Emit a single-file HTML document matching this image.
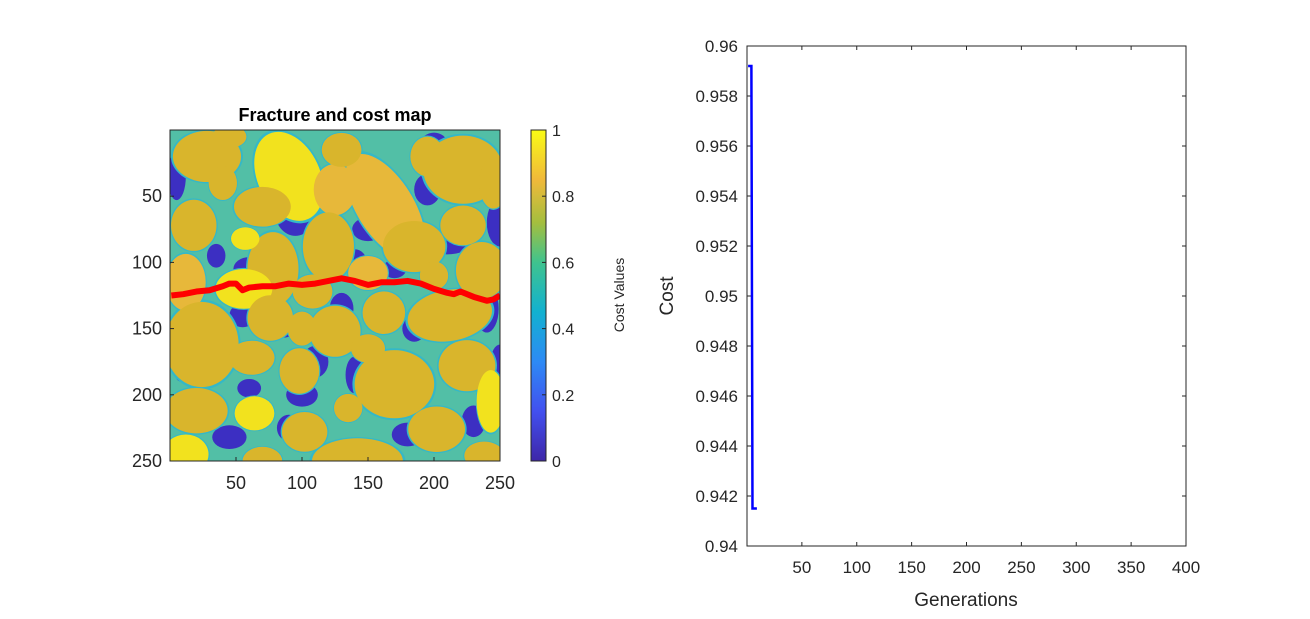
<!DOCTYPE html>
<html><head><meta charset="utf-8"><style>
body{margin:0;background:#fff;width:1310px;height:614px;overflow:hidden}
svg text{font-family:"Liberation Sans",Arial,sans-serif;fill:#262626}
</style></head><body>
<svg id="fig" width="1310" height="614" viewBox="0 0 1310 614">
<defs>
<linearGradient id="parula" x1="0" y1="1" x2="0" y2="0">
<stop offset="0" stop-color="#3e26a8"/><stop offset="0.15" stop-color="#4250ef"/><stop offset="0.3" stop-color="#2d8af5"/>
<stop offset="0.45" stop-color="#12b1d0"/><stop offset="0.6" stop-color="#3fc38e"/><stop offset="0.72" stop-color="#a4be3e"/>
<stop offset="0.85" stop-color="#f0b93a"/><stop offset="1" stop-color="#f9fb15"/></linearGradient>
<clipPath id="mapclip"><rect x="170" y="130" width="330" height="331"/></clipPath>
</defs>
<g id="map" clip-path="url(#mapclip)"></g>
<rect x="170" y="130" width="330" height="331" fill="none" stroke="#262626" stroke-width="1"/>
<g id="mapaxes"></g>
<text x="335" y="121" text-anchor="middle" font-size="18" font-weight="bold" style="fill:#000">Fracture and cost map</text>
<rect x="531" y="130" width="15" height="331" fill="url(#parula)" stroke="#262626" stroke-width="1"/>
<g id="cbaxes"></g>
<text transform="translate(624,295) rotate(-90)" text-anchor="middle" font-size="14">Cost Values</text>
<rect x="747" y="46" width="439" height="500" fill="none" stroke="#262626" stroke-width="1"/>
<g id="costaxes"></g>
<text x="966" y="606" text-anchor="middle" font-size="19">Generations</text>
<text transform="translate(673,296) rotate(-90)" text-anchor="middle" font-size="19">Cost</text>
</svg>
<script>
const NS="http://www.w3.org/2000/svg";
const pathCols=[1,10,20,30,40,45,50,55,60,70,80,90,100,110,120,130,140,150,160,170,180,190,200,210,215,220,230,240,245,250];
const pathRows=[125,124,122,121,118,116,116,121,119,118,118,116,117,116,114,112,114,117,115,115,114,116,120,123,124,122,126,129,128,125];
const generations=[1,2,3,4,5,6,7,8,9];
const costValues=[0.9592,0.9592,0.9592,0.9592,0.9415,0.9415,0.9415,0.9415,0.9415];
const mapTicks=[50,100,150,200,250];
const cbTicks=[0,0.2,0.4,0.6,0.8,1];
const costYTicks=[0.94,0.942,0.944,0.946,0.948,0.95,0.952,0.954,0.956,0.958,0.96];
const costXTicks=[50,100,150,200,250,300,350,400];
const mx=c=>170+c*1.32, my=r=>130+r*1.324;
const cx=g=>747+g*439/400, cy=v=>46+(0.96-v)/0.02*500;
const cbY=v=>461-v*331;
function mk(tag,attrs,parent){const e=document.createElementNS(NS,tag);for(const k in attrs)e.setAttribute(k,attrs[k]);parent.appendChild(e);return e;}
const map=document.getElementById('map');
mk('rect',{x:170,y:130,width:330,height:331,fill:'#52bfa6'},map);
const pores=[[95,60,16,20],[150,75,12,9],[195,45,10,12],[210,85,18,9],[250,70,10,18],[60,105,12,9],[140,100,9,10],[170,105,9,7],[55,140,10,9],[85,148,13,9],[130,135,9,12],[185,150,9,10],[240,135,9,18],[110,175,10,12],[140,185,7,14],[60,195,9,7],[100,200,12,9],[45,232,13,9],[90,225,9,10],[180,230,12,9],[230,220,9,12],[250,175,7,13],[5,35,7,18],[8,180,5,10],[35,95,7,9],[200,10,10,8]];
pores.forEach(p=>mk('ellipse',{cx:mx(p[0]),cy:my(p[1]),rx:p[2]*1.32,ry:p[3]*1.32,fill:'#3c2fc2'},map));
const O='#d9b52c',Y='#f2e21e',R='#e7b83a';
const grains=[[28,20,24,18,0,O],[90,35,22,33,-25,Y],[125,45,15,18,0,R],[163,58,20,42,-32,R],[222,30,28,24,0,O],[18,72,16,18,0,O],[70,58,20,14,0,O],[120,88,18,24,0,O],[78,105,18,26,0,O],[57,82,10,8,0,Y],[108,122,14,12,0,O],[185,88,22,18,0,O],[222,72,16,14,0,O],[236,106,18,20,0,O],[12,115,14,20,0,R],[56,120,20,14,0,Y],[150,108,14,12,0,R],[24,162,26,30,0,O],[76,142,16,16,0,O],[125,152,18,18,0,O],[162,138,15,15,0,O],[212,140,30,18,-10,O],[225,178,20,18,0,O],[170,192,28,24,0,O],[98,182,14,16,0,O],[62,172,16,12,0,O],[20,212,22,16,0,O],[64,214,14,12,0,Y],[102,228,16,14,0,O],[142,250,32,16,0,O],[202,226,20,16,0,O],[243,205,10,22,0,Y],[12,245,16,14,0,Y],[238,246,14,10,0,O],[40,40,10,12,0,O],[195,20,12,14,0,O],[130,15,14,12,0,O],[245,40,10,18,0,O],[135,210,10,10,0,O],[70,250,14,10,0,O],[45,5,12,8,0,O],[100,150,10,12,0,O],[150,165,12,10,0,O],[200,110,10,10,0,O]];
grains.forEach(g=>{const X=mx(g[0]),Yc=my(g[1]);mk('ellipse',{cx:X,cy:Yc,rx:g[2]*1.5,ry:g[3]*1.5,fill:'#34b8c8',transform:`rotate(${g[4]} ${X} ${Yc})`},map);});
grains.forEach(g=>{const X=mx(g[0]),Yc=my(g[1]);mk('ellipse',{cx:X,cy:Yc,rx:g[2]*1.42,ry:g[3]*1.42,fill:g[5],transform:`rotate(${g[4]} ${X} ${Yc})`},map);});
const fp=mk('polyline',{points:pathCols.map((c,i)=>mx(c)+','+my(pathRows[i])).join(' '),fill:'none',stroke:'#ff0000','stroke-width':6,'stroke-linejoin':'round'},map);


const ma=document.getElementById('mapaxes');
mapTicks.forEach(t=>{
 mk('line',{x1:mx(t),x2:mx(t),y1:461,y2:457,stroke:'#262626'},ma);
 mk('line',{x1:170,x2:174,y1:my(t),y2:my(t),stroke:'#262626'},ma);
 const a=mk('text',{x:mx(t),y:489,'text-anchor':'middle','font-size':18},ma);a.textContent=t;
 
 
 const b=mk('text',{x:162,y:my(t)+6,'text-anchor':'end','font-size':18},ma);b.textContent=t;
 
 
});
const cb=document.getElementById('cbaxes');
cbTicks.forEach(t=>{
 mk('line',{x1:542,x2:546,y1:cbY(t),y2:cbY(t),stroke:'#262626'},cb);
 const a=mk('text',{x:552,y:cbY(t)+6,'font-size':16},cb);a.textContent=t;
 
 
});
const ca=document.getElementById('costaxes');
costYTicks.forEach(t=>{
 mk('line',{x1:747,x2:751,y1:cy(t),y2:cy(t),stroke:'#262626'},ca);
 mk('line',{x1:1186,x2:1182,y1:cy(t),y2:cy(t),stroke:'#262626'},ca);
 const a=mk('text',{x:738,y:cy(t)+6,'text-anchor':'end','font-size':17},ca);a.textContent=String(+t.toFixed(3));
 
 
});
costXTicks.forEach(t=>{
 mk('line',{x1:cx(t),x2:cx(t),y1:546,y2:542,stroke:'#262626'},ca);
 mk('line',{x1:cx(t),x2:cx(t),y1:46,y2:50,stroke:'#262626'},ca);
 const a=mk('text',{x:cx(t),y:573,'text-anchor':'middle','font-size':17},ca);a.textContent=t;
 
 
});
const pts=generations.map((g,i)=>cx(g)+','+cy(costValues[i])).join(' ');
const cl=mk('polyline',{points:pts,fill:'none',stroke:'#0000ff','stroke-width':2.5},ca);


</script>
</body></html>
